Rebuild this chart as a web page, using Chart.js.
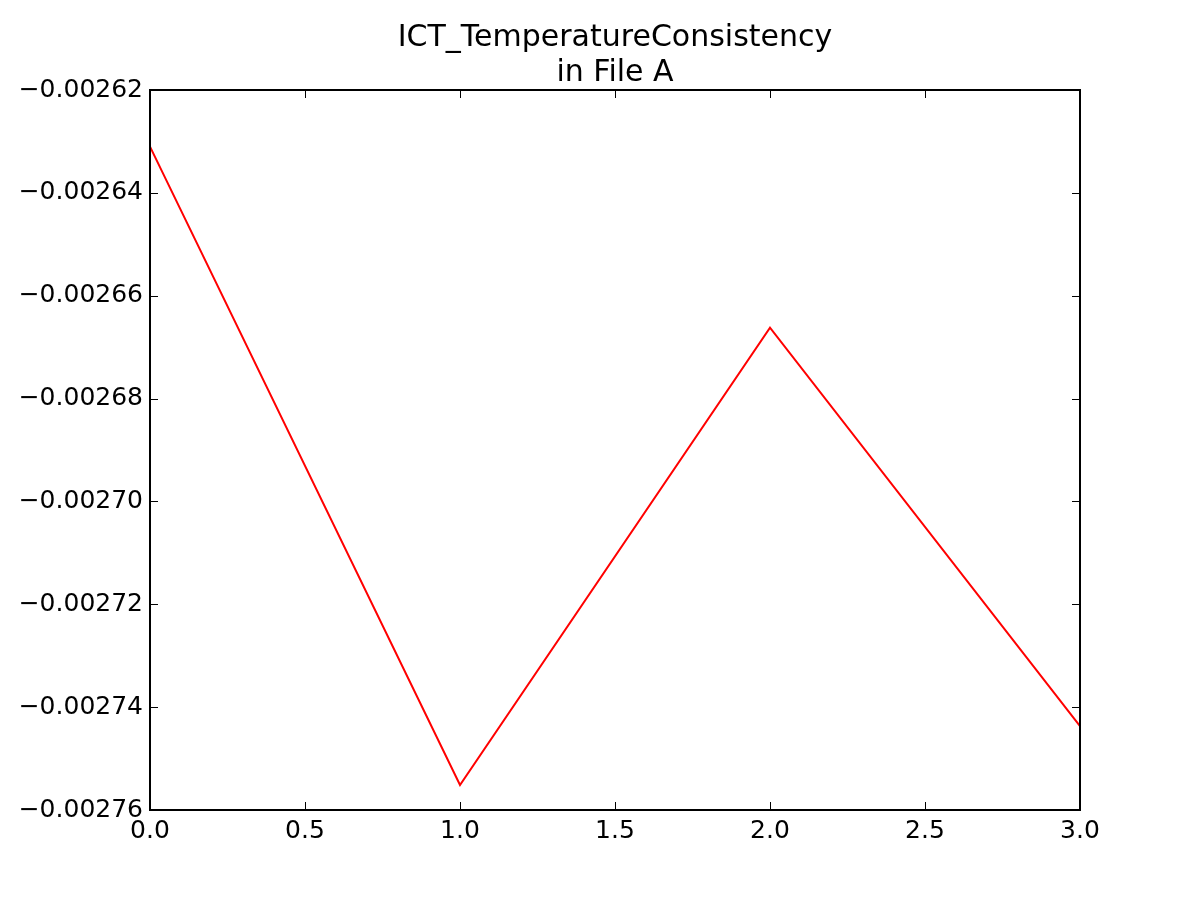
<!DOCTYPE html>
<html>
<head>
<meta charset="utf-8">
<script src="https://cdn.jsdelivr.net/npm/chart.js@4"></script>
<style>
  html, body { margin: 0; padding: 0; background: #fff; }
  #wrap { width: 1200px; height: 900px; }
</style>
</head>
<body>
<div id="wrap"><canvas id="chart" width="1200" height="900"></canvas></div>
<script>
const titleLines = ['ICT_TemperatureConsistency', 'in File A'];
const xValues = [0, 1, 2, 3];
const yValues = [-0.00263102, -0.00275514, -0.00266622, -0.00274367];
const xTicks = [0, 0.5, 1, 1.5, 2, 2.5, 3];
const yTicks = [-0.00276, -0.00274, -0.00272, -0.0027, -0.00268, -0.00266, -0.00264, -0.00262];

const font = "'DejaVu Sans', sans-serif";

// matplotlib-style inward ticks on all four sides
const innerTicks = {
  id: 'innerTicks',
  afterDatasetsDraw(chart) {
    const { ctx, chartArea: a, scales: { x, y } } = chart;
    ctx.save();
    ctx.strokeStyle = '#000';
    ctx.lineWidth = 1;
    ctx.beginPath();
    for (const v of xTicks) {
      const px = Math.round(x.getPixelForValue(v)) + 0.5;
      ctx.moveTo(px, a.bottom); ctx.lineTo(px, a.bottom - 8);
      ctx.moveTo(px, a.top); ctx.lineTo(px, a.top + 8);
    }
    for (const v of yTicks) {
      const py = Math.round(y.getPixelForValue(v)) + 0.5;
      ctx.moveTo(a.left, py); ctx.lineTo(a.left + 8, py);
      ctx.moveTo(a.right, py); ctx.lineTo(a.right - 8, py);
    }
    ctx.stroke();
    ctx.lineWidth = 2;
    ctx.strokeRect(a.left, a.top, a.right - a.left, a.bottom - a.top);
    ctx.restore();
  }
};

new Chart(document.getElementById('chart'), {
  type: 'line',
  data: {
    datasets: [{
      data: xValues.map((x, i) => ({ x, y: yValues[i] })),
      borderColor: '#ff0000',
      borderWidth: 2,
      pointRadius: 0,
      tension: 0,
      fill: false,
      clip: 2,
    }]
  },
  options: {
    responsive: false,
    animation: false,
    devicePixelRatio: 1,
    layout: { padding: { top: 16, right: 120, bottom: 50, left: 0 } },
    plugins: {
      legend: { display: false },
      tooltip: { enabled: false },
      title: {
        display: true,
        text: titleLines,
        fullSize: false,
        color: '#000',
        font: { family: font, size: 30, weight: 'normal', lineHeight: 1.15 },
        padding: { top: 5, bottom: 0 }
      }
    },
    scales: {
      x: {
        type: 'linear',
        min: 0, max: 3,
        afterBuildTicks: s => { s.ticks = xTicks.map(v => ({ value: v })); },
        afterFit: s => { s.height = 40; },
        grid: { display: false, drawTicks: false },
        border: { display: false },
        ticks: {
          color: '#000',
          padding: 6,
          autoSkip: false,
          font: { family: font, size: 25 },
          maxRotation: 0,
          callback: v => v.toFixed(1)
        }
      },
      y: {
        type: 'linear',
        min: -0.00276, max: -0.00262,
        afterBuildTicks: s => { s.ticks = yTicks.map(v => ({ value: v })); },
        afterFit: s => { s.width = 150; },
        grid: { display: false, drawTicks: false },
        border: { display: false },
        ticks: {
          color: '#000',
          padding: 7,
          autoSkip: false,
          font: { family: font, size: 25 },
          callback: v => v.toFixed(5).replace('-', '\u2212')
        }
      }
    }
  },
  plugins: [innerTicks]
});
</script>
</body>
</html>
